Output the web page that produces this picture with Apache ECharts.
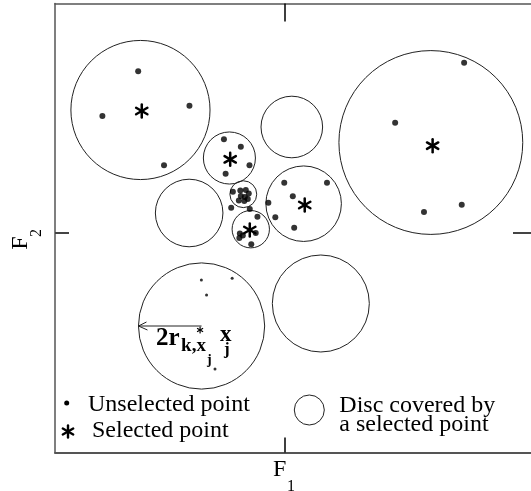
<!DOCTYPE html>
<html><head><meta charset="utf-8">
<script src="https://cdn.jsdelivr.net/npm/echarts@6.0.0/dist/echarts.min.js"></script>
<style>html,body{margin:0;padding:0;background:#fff;overflow:hidden}#c{width:531px;height:491px}</style>
</head><body><div id="c"></div>
<script>
// Discs covered by selected points: centre (F1, F2) and radius
const discX = [-14.5, -5.55, -9.6, -4.15, -3.4, 1.92, 0.73, 14.72, -8.35, 3.65];
const discY = [12.3, 7.5, 2.0, 3.88, 0.38, 2.93, 10.6, 9.05, -9.3, -7.05];
const discR = [7.0, 2.62, 3.4, 1.35, 1.88, 3.8, 3.1, 9.25, 6.35, 4.88];
// Selected points (asterisks)
const selX = [-14.37, -5.47, -3.5, 2.03, 14.9];
const selY = [12.2, 7.37, 0.3, 2.8, 8.73];
// Unselected points (dots)
const unselX = [-14.73, -18.33, -9.57, -12.13,
  -6.1, -4.4, -3.53, -5.93,
  -5.2, -4.45, -3.9, -3.6, -4.4, -4.0, -4.6, -4.05, -3.7,
  -5.37, -3.5,
  -2.73, -4.5, -4.55, -4.2, -2.9, -3.35,
  -0.03, 4.27, 0.83, -1.63, -0.93, 0.97,
  18.07, 11.13, 14.03, 17.83];
const unselY = [16.17, 11.7, 12.73, 6.77,
  9.37, 8.63, 6.77, 5.93,
  4.13, 4.25, 4.3, 3.95, 3.7, 3.6, 3.25, 3.2, 3.4,
  2.53, 2.4,
  1.63, -0.05, -0.5, -0.25, 0.0, -1.13,
  5.03, 5.03, 3.67, 3.03, 1.57, 0.53,
  17.03, 11.03, 2.1, 2.83];
// Small dots inside the annotated disc
const smallX = [-8.37, -5.27, -7.85, -7.0];
const smallY = [-4.7, -4.53, -6.2, -13.6];
// Annotated disc index
const annotated = 8;
// Axis tick positions
const xTicks = [0];
const yTicks = [0];

const SERIF = '"Liberation Serif","Times New Roman",serif';

function starParts(cx, cy, s, lw) {
  const out = [];
  for (let k = 0; k < 3; k++) {
    const a = Math.PI / 2 + k * Math.PI / 3;
    out.push({type: 'line', shape: {x1: cx + s * Math.cos(a), y1: cy - s * Math.sin(a), x2: cx - s * Math.cos(a), y2: cy + s * Math.sin(a)},
      style: {stroke: '#000', lineWidth: lw, lineCap: 'round'}});
  }
  return out;
}

const discData = discX.map((x, i) => [x, discY[i], discR[i]]);
const selData = selX.map((x, i) => [x, selY[i]]);
const unselData = unselX.map((x, i) => [x, unselY[i]]);
const smallData = smallX.map((x, i) => [x, smallY[i]]);

const chart = echarts.init(document.getElementById('c'), null, {renderer: 'canvas'});
const axisLine = (w) => ({show: true, onZero: false, lineStyle: {color: '#555', width: w}});
chart.setOption({
  animation: false,
  backgroundColor: '#fff',
  grid: {left: 55, right: -3, top: 3.5, bottom: 38.5},
  xAxis: [
    {type: 'value', min: -23.1, max: 24.8, position: 'bottom', axisLine: axisLine(2),
      axisTick: {show: true, inside: true, length: 15, customValues: xTicks, lineStyle: {color: '#000', width: 1.5}},
      axisLabel: {show: false}, splitLine: {show: false}},
    {type: 'value', min: -23.1, max: 24.8, position: 'top', axisLine: axisLine(1.5),
      axisTick: {show: true, inside: true, length: 18, customValues: xTicks, lineStyle: {color: '#000', width: 1.5}},
      axisLabel: {show: false}, splitLine: {show: false}}
  ],
  yAxis: [
    {type: 'value', min: -21.95, max: 22.95, position: 'left', axisLine: axisLine(1.5),
      axisTick: {show: true, inside: true, length: 14, customValues: yTicks, lineStyle: {color: '#444', width: 2}},
      axisLabel: {show: false}, splitLine: {show: false}},
    {type: 'value', min: -21.95, max: 22.95, position: 'right',
      axisLine: {show: false, onZero: false, lineStyle: {color: 'rgba(0,0,0,0)', width: 0}},
      axisTick: {show: true, inside: true, length: 18, customValues: yTicks, lineStyle: {color: '#444', width: 2}},
      axisLabel: {show: false}, splitLine: {show: false}}
  ],
  series: [
    {type: 'custom', xAxisIndex: 0, yAxisIndex: 0, data: discData, silent: true,
      renderItem: (p, api) => {
        const c = api.coord([api.value(0), api.value(1)]);
        const r = api.size([api.value(2), 0])[0];
        return {type: 'circle', shape: {cx: c[0], cy: c[1], r: r}, style: {fill: 'none', stroke: '#222', lineWidth: 1}};
      }},
    {type: 'scatter', xAxisIndex: 0, yAxisIndex: 0, data: unselData, symbol: 'circle', symbolSize: 6,
      itemStyle: {color: '#000'}, silent: true},
    {type: 'scatter', xAxisIndex: 0, yAxisIndex: 0, data: smallData, symbol: 'circle', symbolSize: 3,
      itemStyle: {color: '#000'}, silent: true},
    {type: 'custom', xAxisIndex: 0, yAxisIndex: 0, data: selData, silent: true,
      renderItem: (p, api) => {
        const c = api.coord([api.value(0), api.value(1)]);
        return {type: 'group', children: starParts(c[0], c[1], 6.5, 2.5)};
      }},
    {type: 'custom', xAxisIndex: 0, yAxisIndex: 0, data: [discData[annotated]], silent: true,
      renderItem: (p, api) => {
        const c = api.coord([api.value(0), api.value(1)]);
        const r = api.size([api.value(2), 0])[0];
        const cx = c[0], cy = c[1];
        const tipX = cx - r;
        const t = (text, dx, dy, size) => ({type: 'text', style: {text: text, x: cx + dx, y: cy + dy,
          font: 'bold ' + size + 'px ' + SERIF, fill: '#000', textAlign: 'left', textVerticalAlign: 'middle'}});
        return {type: 'group', children: [
          {type: 'line', shape: {x1: tipX, y1: cy, x2: cx, y2: cy}, style: {stroke: '#222', lineWidth: 1}},
          {type: 'polyline', shape: {points: [[tipX + 8, cy - 4], [tipX, cy], [tipX + 9, cy + 4]]}, style: {stroke: '#222', lineWidth: 1, fill: 'none'}},
          ...starParts(cx - 1.5, cy + 4, 3, 1.2),
          t('2r', -45.5, 12.5, 25),
          t('k,x', -20.5, 20, 19),
          t('j', 5.5, 34, 14),
          t('x', 18.5, 9, 23),
          t('j', 22.5, 24, 17)
        ]};
      }}
  ],
  graphic: [
    {type: 'circle', shape: {cx: 66.7, cy: 403, r: 2.5}, style: {fill: '#000'}},
    {type: 'group', children: starParts(68, 431.5, 6, 2.4)},
    {type: 'text', x: 88, y: 405, style: {text: 'Unselected point', font: '24px ' + SERIF, fill: '#000', textVerticalAlign: 'middle'}},
    {type: 'text', x: 92, y: 431, style: {text: 'Selected point', font: '24px ' + SERIF, fill: '#000', textVerticalAlign: 'middle'}},
    {type: 'circle', shape: {cx: 309.3, cy: 410, r: 15}, style: {fill: 'none', stroke: '#222', lineWidth: 1}},
    {type: 'text', x: 339.3, y: 406, style: {text: 'Disc covered by', font: '24px ' + SERIF, fill: '#000', textVerticalAlign: 'middle'}},
    {type: 'text', x: 339.3, y: 425, style: {text: 'a selected point', font: '24px ' + SERIF, fill: '#000', textVerticalAlign: 'middle'}},
    {type: 'text', x: 273, y: 470, style: {text: 'F', font: '24px ' + SERIF, fill: '#000', textVerticalAlign: 'middle'}},
    {type: 'text', x: 287, y: 486.5, style: {text: '1', font: '16px ' + SERIF, fill: '#000', textVerticalAlign: 'middle'}},
    {type: 'text', x: 20.7, y: 243, rotation: Math.PI / 2, style: {text: 'F', font: '24px ' + SERIF, fill: '#000', textAlign: 'center', textVerticalAlign: 'middle'}},
    {type: 'text', x: 37, y: 233, rotation: Math.PI / 2, style: {text: '2', font: '16px ' + SERIF, fill: '#000', textAlign: 'center', textVerticalAlign: 'middle'}}
  ]
});
</script></body></html>
